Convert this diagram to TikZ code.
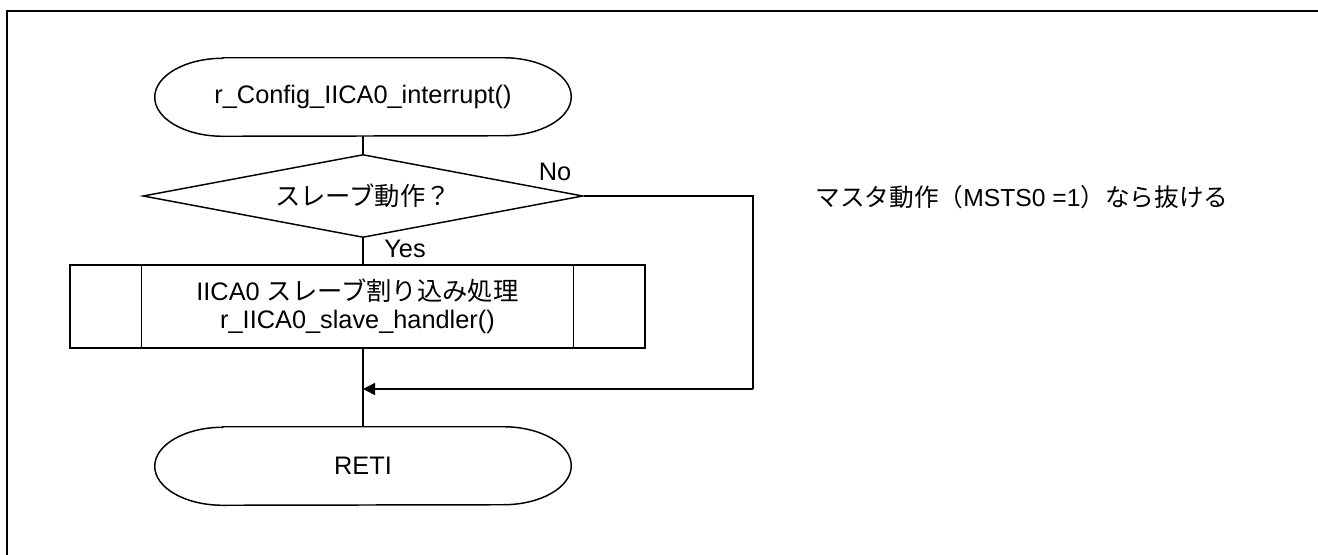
\documentclass[tikz,border=0pt]{standalone}
\usepackage{fontspec}
\setmainfont{Liberation Sans}
\newfontfamily\jp{Noto Sans CJK JP}
\usetikzlibrary{shapes.geometric,arrows.meta,calc}
\tikzset{
  ln/.style={line width=1.1pt},
  term/.style={minimum width=312pt, minimum height=58.5pt, inner sep=0pt, font=\fontsize{19}{21}\selectfont},
  dec/.style={diamond, draw, ln, minimum width=330pt, minimum height=62.25pt, inner sep=0pt, aspect=5.3, font=\fontsize{19}{21}\selectfont},
  proc/.style={draw, ln, minimum width=431.25pt, minimum height=62.25pt, inner sep=0pt, align=center, font=\fontsize{19}{21}\selectfont},
  lbl/.style={font=\fontsize{19}{21}\selectfont, inner sep=0pt},
  note/.style={font=\fontsize{18.5}{21}\selectfont, inner sep=0pt},
  arr/.style={ln, -{Triangle[length=9pt,width=9pt]}}
}
\newcommand{\termpath}[1]{%
  \draw[ln] ([xshift=51pt]#1.north west) -- ([xshift=-51pt]#1.north east)
    arc[start angle=90, end angle=-90, x radius=51pt, y radius=29.25pt]
    -- ([xshift=51pt]#1.south west)
    arc[start angle=270, end angle=90, x radius=51pt, y radius=29.25pt] -- cycle;}
\begin{document}
\begin{tikzpicture}[x=0.75pt, y=-0.75pt]
\useasboundingbox (0,0) rectangle (1318,554);
\draw[line width=1.6pt] (7,560) -- (7,11) -- (1325,11);
\node[term] (start) at (363,97) {r\_Config\_IICA0\_interrupt()};
\termpath{start}
\node[dec] (dec) at (363,196) {\jp スレーブ動作？};
\node[proc] (proc) at (357.5,306.5) {IICA0 {\jp スレーブ割り込み処理}\\r\_IICA0\_slave\_handler()};
\draw[ln] ([xshift=54pt]proc.north west) -- ([xshift=54pt]proc.south west);
\draw[ln] ([xshift=-54pt]proc.north east) -- ([xshift=-54pt]proc.south east);
\node[term] (reti) at (363,466) {RETI};
\termpath{reti}
\coordinate (nr) at (753,196);
\coordinate (mj) at (363,389);
\draw[ln] (start.south) -- (dec.north);
\draw[ln] (dec.south) -- (dec.south |- proc.north);
\draw[ln] (dec.south |- proc.south) -- (reti.north);
\draw[ln] (dec.east) -- (nr) -- (nr |- mj);
\draw[arr] (nr |- mj) -- (mj);
\node[lbl] (no) at (555,172) {No};
\node[lbl] (yes) at (405,249) {Yes};
\node[note] (nt) at (1022,197) {\jp マスタ動作（{\rmfamily MSTS0 =1}）なら抜ける};
\end{tikzpicture}
\end{document}
